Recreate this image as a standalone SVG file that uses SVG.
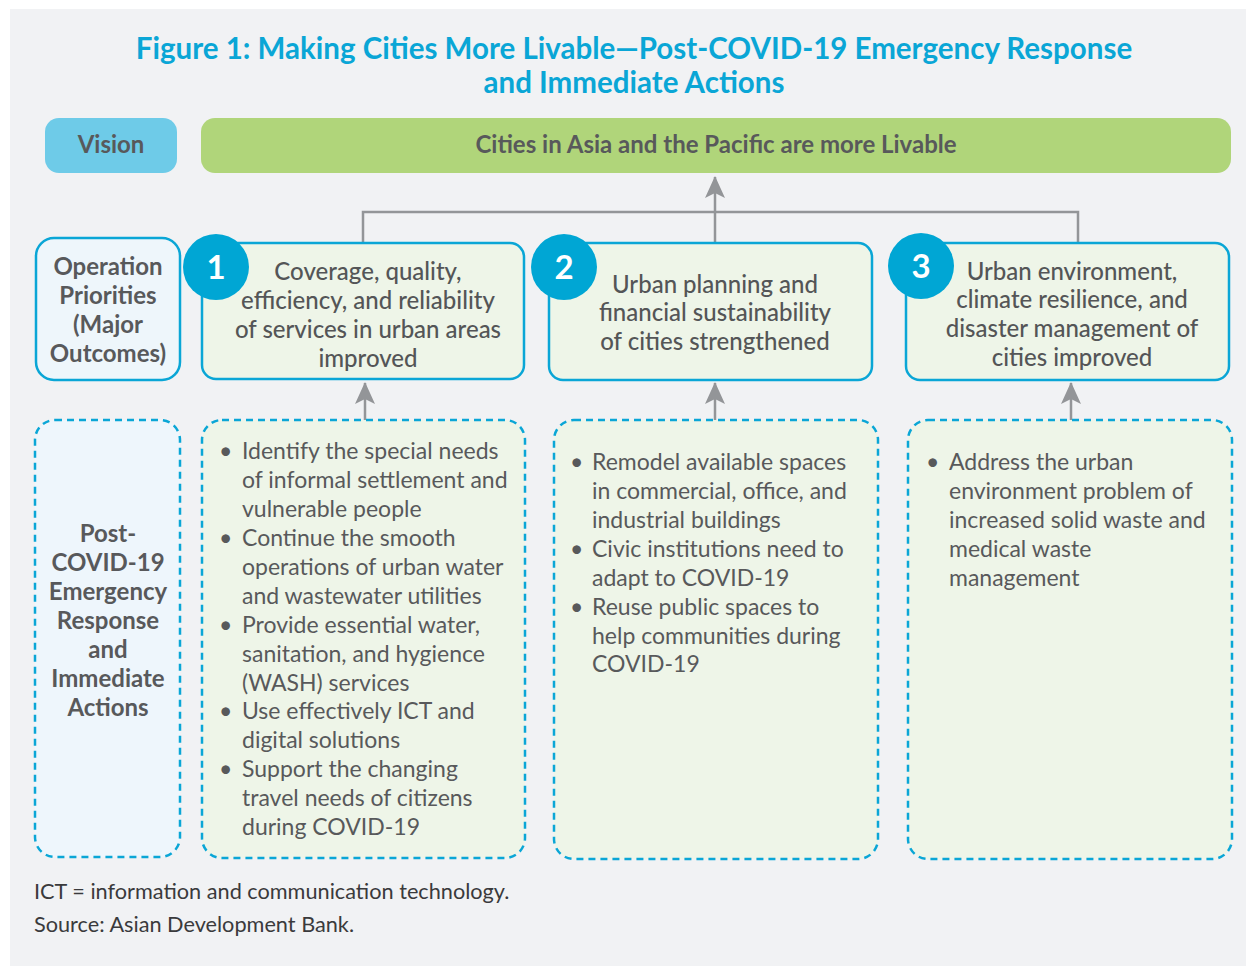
<svg xmlns="http://www.w3.org/2000/svg" width="1246" height="966" viewBox="0 0 1246 966">
  <defs>
    <!-- notched arrowhead, drawn along +x so orient="auto" follows the line -->
    <marker id="arrow" viewBox="0 0 22 20" refX="21" refY="10" markerWidth="22" markerHeight="20" markerUnits="userSpaceOnUse" orient="auto">
      <path d="M22 10 L0 0 L5 10 L0 20 Z" fill="#939598"/>
    </marker>
    <style>
      .title { font-family: Lato, "Open Sans", sans-serif; font-weight: 700; font-size: 29.5px; fill: #0aa6d6; text-anchor: middle; }
      .lbl { font-family: Lato, "Open Sans", sans-serif; font-weight: 700; font-size: 24px; fill: #58595b; text-anchor: middle; }
      .out { font-family: Lato, "Open Sans", sans-serif; font-weight: 500; font-size: 24px; fill: #545557; text-anchor: middle; }
      .body { font-family: Lato, "Open Sans", sans-serif; font-size: 23px; fill: #58595b; }
      .num { font-family: Lato, "Open Sans", sans-serif; font-weight: 700; font-size: 33px; fill: #ffffff; text-anchor: middle; }
      .note { font-family: Lato, "Open Sans", sans-serif; font-size: 21.7px; fill: #3a3a3c; }
      .solid { fill: #eef5e8; stroke: #0aa6d6; stroke-width: 2.5; }
      .dash { fill: #eef5e8; stroke: #0aa6d6; stroke-width: 2.5; stroke-dasharray: 7 5; }
      .conn { fill: none; stroke: #939598; stroke-width: 2.5; }
      .badge { fill: #00a6d4; }
    </style>
  </defs>

  <!-- panel background -->
  <rect x="10" y="9" width="1236" height="957" fill="#f1f2f4"/>

  <!-- heading -->
  <text class="title" x="634" y="59">Figure 1: Making Cities More Livable—Post-COVID-19 Emergency Response</text>
  <text class="title" x="634" y="93">and Immediate Actions</text>

  <!-- connectors -->
  <g id="connectors">
    <path class="conn" d="M363 243 V212 H1078 V243"/>
    <path class="conn" d="M715 243 V177" marker-end="url(#arrow)"/>
    <path class="conn" d="M365 420 V383" marker-end="url(#arrow)"/>
    <path class="conn" d="M715 420 V383" marker-end="url(#arrow)"/>
    <path class="conn" d="M1071 420 V383" marker-end="url(#arrow)"/>
  </g>

  <!-- vision row -->
  <g id="vision-label">
    <rect x="45" y="118" width="132" height="55" rx="14" fill="#6ecbe8"/>
    <text class="lbl" x="111" y="153">Vision</text>
  </g>
  <g id="vision">
    <rect x="201" y="118" width="1030" height="55" rx="14" fill="#b0d57a"/>
    <text class="lbl" x="716" y="153">Cities in Asia and the Pacific are more Livable</text>
  </g>

  <!-- operation priorities row -->
  <g id="priorities-label">
    <rect x="36" y="238" width="144" height="142" rx="18" fill="#eef6fb" stroke="#0aa6d6" stroke-width="2.5"/>
    <text class="lbl" x="108" y="275">Operation</text>
    <text class="lbl" x="108" y="304">Priorities</text>
    <text class="lbl" x="108" y="333">(Major</text>
    <text class="lbl" x="108" y="362">Outcomes)</text>
  </g>

  <g id="outcome-1">
    <rect class="solid" x="202" y="243" width="322" height="136" rx="14"/>
    <circle class="badge" cx="216" cy="267" r="33"/>
    <text class="num" x="216" y="279">1</text>
    <text class="out" x="368" y="280">Coverage, quality,</text>
    <text class="out" x="368" y="309">efficiency, and reliability</text>
    <text class="out" x="368" y="338">of services in urban areas</text>
    <text class="out" x="368" y="367">improved</text>
  </g>

  <g id="outcome-2">
    <rect class="solid" x="549" y="243" width="323" height="137" rx="14"/>
    <circle class="badge" cx="564" cy="267" r="33"/>
    <text class="num" x="564" y="279">2</text>
    <text class="out" x="715" y="293">Urban planning and</text>
    <text class="out" x="715" y="321">financial sustainability</text>
    <text class="out" x="715" y="350">of cities strengthened</text>
  </g>

  <g id="outcome-3">
    <rect class="solid" x="906" y="243" width="323" height="137" rx="14"/>
    <circle class="badge" cx="921" cy="266" r="33"/>
    <text class="num" x="921" y="278">3</text>
    <text class="out" x="1072" y="280">Urban environment,</text>
    <text class="out" x="1072" y="308">climate resilience, and</text>
    <text class="out" x="1072" y="337">disaster management of</text>
    <text class="out" x="1072" y="366">cities improved</text>
  </g>

  <!-- actions row -->
  <g id="actions-label">
    <rect x="35" y="420" width="145" height="437" rx="20" fill="#eef6fc" stroke="#0aa6d6" stroke-width="2.5" stroke-dasharray="7 5"/>
    <text class="lbl" x="108" y="542">Post-</text>
    <text class="lbl" x="108" y="571">COVID-19</text>
    <text class="lbl" x="108" y="600">Emergency</text>
    <text class="lbl" x="108" y="629">Response</text>
    <text class="lbl" x="108" y="658">and</text>
    <text class="lbl" x="108" y="687">Immediate</text>
    <text class="lbl" x="108" y="716">Actions</text>
  </g>

  <g id="actions-1">
    <rect class="dash" x="202" y="420" width="323" height="438" rx="20"/>
    <g class="body">
      <text x="219" y="459">•</text>
      <text x="242" y="459">Identify the special needs</text>
      <text x="242" y="488">of informal settlement and</text>
      <text x="242" y="517">vulnerable people</text>
      <text x="219" y="546">•</text>
      <text x="242" y="546">Continue the smooth</text>
      <text x="242" y="575">operations of urban water</text>
      <text x="242" y="604">and wastewater utilities</text>
      <text x="219" y="633">•</text>
      <text x="242" y="633">Provide essential water,</text>
      <text x="242" y="662">sanitation, and hygience</text>
      <text x="242" y="691">(WASH) services</text>
      <text x="219" y="719">•</text>
      <text x="242" y="719">Use effectively ICT and</text>
      <text x="242" y="748">digital solutions</text>
      <text x="219" y="777">•</text>
      <text x="242" y="777">Support the changing</text>
      <text x="242" y="806">travel needs of citizens</text>
      <text x="242" y="835">during COVID-19</text>
    </g>
  </g>

  <g id="actions-2">
    <rect class="dash" x="554" y="420" width="324" height="439" rx="20"/>
    <g class="body">
      <text x="570" y="470">•</text>
      <text x="592" y="470">Remodel available spaces</text>
      <text x="592" y="499">in commercial, office, and</text>
      <text x="592" y="528">industrial buildings</text>
      <text x="570" y="557">•</text>
      <text x="592" y="557">Civic institutions need to</text>
      <text x="592" y="586">adapt to COVID-19</text>
      <text x="570" y="615">•</text>
      <text x="592" y="615">Reuse public spaces to</text>
      <text x="592" y="644">help communities during</text>
      <text x="592" y="672">COVID-19</text>
    </g>
  </g>

  <g id="actions-3">
    <rect class="dash" x="908" y="420" width="324" height="439" rx="20"/>
    <g class="body">
      <text x="926" y="470">•</text>
      <text x="949" y="470">Address the urban</text>
      <text x="949" y="499">environment problem of</text>
      <text x="949" y="528">increased solid waste and</text>
      <text x="949" y="557">medical waste</text>
      <text x="949" y="586">management</text>
    </g>
  </g>

  <!-- notes -->
  <text class="note" x="34" y="899">ICT = information and communication technology.</text>
  <text class="note" x="34" y="932">Source: Asian Development Bank.</text>
</svg>
